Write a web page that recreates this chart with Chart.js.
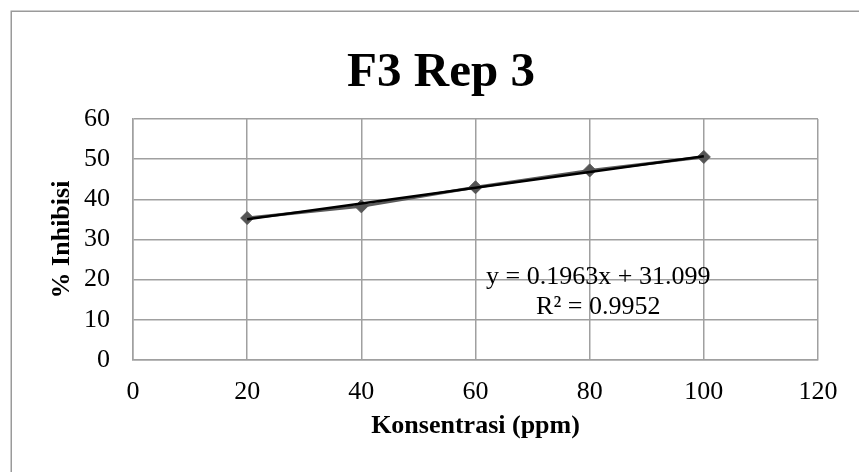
<!DOCTYPE html>
<html>
<head>
<meta charset="utf-8">
<script src="https://cdn.jsdelivr.net/npm/chart.js@4/dist/chart.umd.min.js"></script>
<style>
  html, body { margin: 0; padding: 0; background: #ffffff; }
  #wrap { position: relative; width: 859px; height: 472px; overflow: hidden; }
  canvas { display: block; }
</style>
</head>
<body>
<div id="wrap"><canvas id="chart" width="859" height="472"></canvas></div>
<script>
// Concentration (ppm) and measured inhibition (%)
const concentrations = [20, 40, 60, 80, 100];
const inhibition = [35.35, 38.25, 43.0, 47.2, 50.55];

// Linear trendline as reported on the chart
const slope = 0.1963;
const intercept = 31.099;
const rSquared = 0.9952;

// Axis tick values
const xTicks = [0, 20, 40, 60, 80, 100, 120];
const yTicks = [0, 10, 20, 30, 40, 50, 60];

const chartTitle = 'F3 Rep 3';
const xTitle = 'Konsentrasi (ppm)';
const yTitle = '% Inhibisi';

const SERIF = '"Liberation Serif", "Times New Roman", serif';
const GRID = '#a0a0a0';

const points = concentrations.map((x, i) => ({ x: x, y: inhibition[i] }));
const xFirst = concentrations[0];
const xLast = concentrations[concentrations.length - 1];
const trend = [
  { x: xFirst, y: slope * xFirst + intercept },
  { x: xLast, y: slope * xLast + intercept }
];

// Outer frame, white background and the chart heading (centred on the frame)
const framePlugin = {
  id: 'frame',
  beforeDraw(chart) {
    const ctx = chart.ctx;
    ctx.save();
    ctx.fillStyle = '#ffffff';
    ctx.fillRect(0, 0, chart.width, chart.height);
    ctx.strokeStyle = '#9a9a9a';
    ctx.lineWidth = 1.5;
    ctx.strokeRect(11.25, 11.25, chart.width + 50, chart.height + 50);
    ctx.fillStyle = '#000000';
    ctx.font = 'bold 49px ' + SERIF;
    ctx.textAlign = 'center';
    ctx.textBaseline = 'alphabetic';
    ctx.fillText(chartTitle, 441, 86);
    ctx.restore();
  }
};

// Trendline equation and R² label
const equationPlugin = {
  id: 'equation',
  afterDatasetsDraw(chart) {
    const ctx = chart.ctx;
    const xs = chart.scales.x, ys = chart.scales.y;
    const cx = xs.getPixelForValue(81.5);
    const base = ys.getPixelForValue(18.8);
    ctx.save();
    ctx.fillStyle = '#000000';
    ctx.font = '26px ' + SERIF;
    ctx.textAlign = 'center';
    ctx.textBaseline = 'alphabetic';
    ctx.fillText('y = ' + slope.toFixed(4) + 'x + ' + intercept.toFixed(3), cx, base);
    ctx.fillText('R\u00B2 = ' + rSquared.toFixed(4), cx, base + 30);
    ctx.restore();
  }
};

new Chart(document.getElementById('chart'), {
  type: 'scatter',
  data: {
    datasets: [
      {
        label: 'Trendline',
        data: trend,
        showLine: true,
        borderColor: '#000000',
        borderWidth: 2.5,
        pointRadius: 0,
        order: 0
      },
      {
        label: '% Inhibisi',
        data: points,
        showLine: true,
        borderColor: '#5a5a5a',
        borderWidth: 3,
        pointStyle: 'rectRot',
        pointRadius: 6.5,
        pointBackgroundColor: '#555555',
        pointBorderColor: '#555555',
        pointBorderWidth: 1,
        order: 1
      }
    ]
  },
  options: {
    responsive: false,
    devicePixelRatio: 1,
    animation: false,
    layout: { padding: { left: 0, right: 41, top: 119, bottom: 0 } },
    plugins: {
      legend: { display: false },
      tooltip: { enabled: false },
      title: { display: false }
    },
    scales: {
      x: {
        type: 'linear',
        min: 0,
        max: 120,
        afterBuildTicks(scale) { scale.ticks = xTicks.map(v => ({ value: v })); },
        afterFit(scale) { scale.height = 112; },
        grid: { color: GRID, lineWidth: 1.5, drawTicks: false },
        border: { display: true, color: GRID, width: 1.5 },
        ticks: {
          color: '#000000',
          font: { family: SERIF, size: 26, lineHeight: 1.2 },
          padding: 17,
          maxRotation: 0
        },
        title: {
          display: true,
          text: xTitle,
          color: '#000000',
          font: { family: SERIF, size: 26, weight: 'bold', lineHeight: 1.2 },
          padding: { top: 0, bottom: 30 }
        }
      },
      y: {
        type: 'linear',
        min: 0,
        max: 60,
        afterBuildTicks(scale) { scale.ticks = yTicks.map(v => ({ value: v })); },
        afterFit(scale) { scale.width = 133; },
        grid: { color: GRID, lineWidth: 1.5, drawTicks: false },
        border: { display: true, color: GRID, width: 1.5 },
        ticks: {
          color: '#000000',
          font: { family: SERIF, size: 26, lineHeight: 1.2 },
          padding: 23
        },
        title: {
          display: true,
          text: yTitle,
          color: '#000000',
          font: { family: SERIF, size: 26, weight: 'bold', lineHeight: 1.2 },
          padding: { top: 47, bottom: 0 }
        }
      }
    }
  },
  plugins: [framePlugin, equationPlugin]
});
</script>
</body>
</html>
